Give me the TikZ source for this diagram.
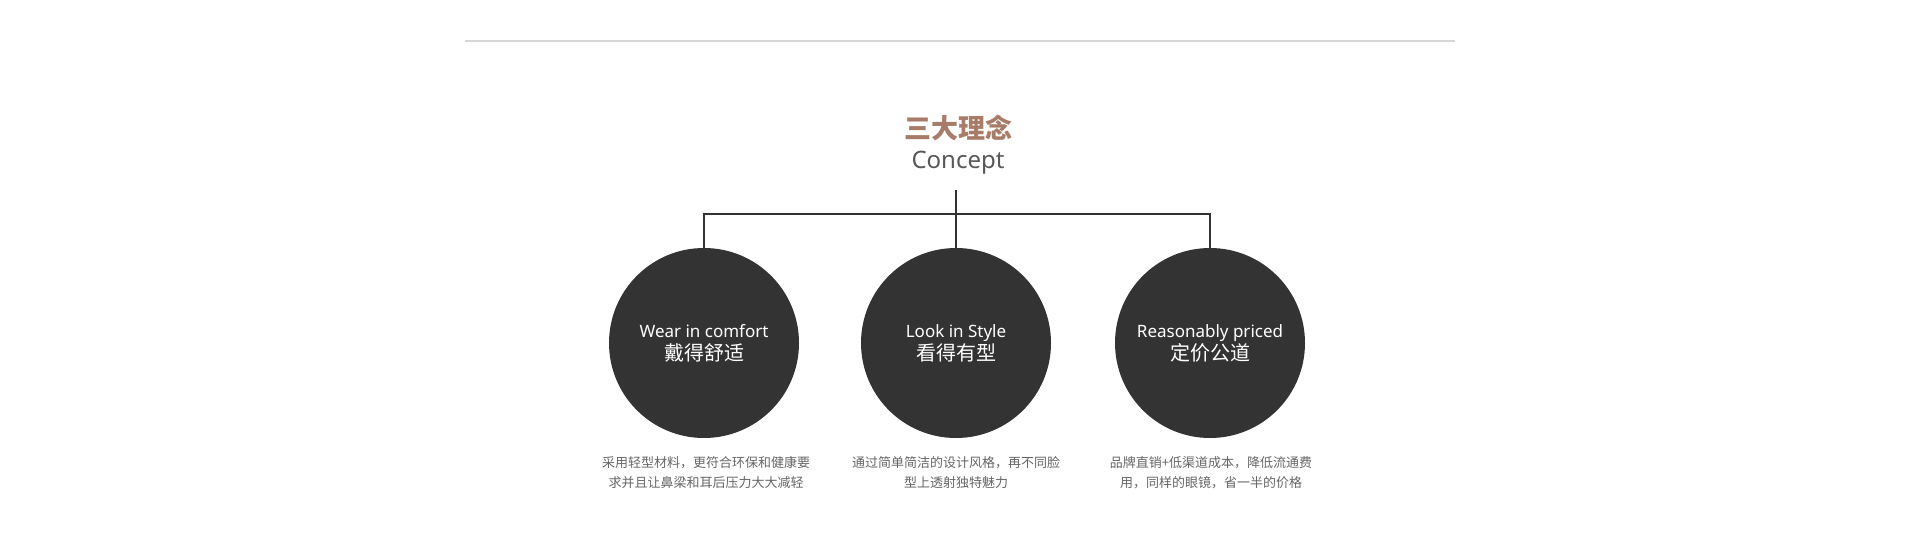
\documentclass[tikz,border=0pt]{standalone}
\usepackage{fontspec}
\setmainfont{Noto Sans}
\newfontfamily\cjk{Noto Sans CJK SC}
\definecolor{ink}{RGB}{51,51,51}
\definecolor{rulegray}{RGB}{214,214,214}
\definecolor{tan}{RGB}{168,124,104}
\definecolor{note}{RGB}{102,102,102}
\definecolor{sub}{RGB}{88,88,88}
\tikzset{
  idea/.style={circle,fill=ink,minimum size=190pt,inner sep=0pt,text=white,align=center,font=\fontsize{17}{23}\selectfont},
  link/.style={draw=ink,line width=1.8pt},
  caption/.style={text=note,align=center,font=\cjk\fontsize{13}{20}\selectfont}
}
\begin{document}
\begin{tikzpicture}[x=1pt,y=-1pt]
        \fill[white] (0,0) rectangle (1920,533);
        \useasboundingbox (0,0) rectangle (1920,533);
        \coordinate (ruleL) at (465,41);
        \coordinate (ruleR) at (1455,41);
        \draw[rulegray,line width=1.5pt] (ruleL) -- (ruleR);
        \node[text=tan,font=\cjk\bfseries\fontsize{27}{30}\selectfont] (title) at (958,128) {三大理念};
        \node[text=sub,font=\fontsize{24}{28}\selectfont] (concept) at (958,163) {Concept};
        \node[idea] (wear) at (704,343) {Wear in comfort\\{\cjk\fontsize{20}{23}\selectfont 戴得舒适}};
        \node[idea] (style) at (956,343) {Look in Style\\{\cjk\fontsize{20}{23}\selectfont 看得有型}};
        \node[idea] (price) at (1210,343) {Reasonably priced\\{\cjk\fontsize{20}{23}\selectfont 定价公道}};
        \coordinate (stem) at (956,190);
        \coordinate (bar) at (956,214);
        \draw[link] (stem) -- (style.north);
        \draw[link] (wear.north) |- (bar) -| (price.north);
        \node[caption] (wearnote) at (706,473) {采用轻型材料，更符合环保和健康要\\求并且让鼻梁和耳后压力大大减轻};
        \node[caption] (stylenote) at (956,473) {通过简单简洁的设计风格，再不同脸\\型上透射独特魅力};
        \node[caption] (pricenote) at (1211,473) {品牌直销+低渠道成本，降低流通费\\用，同样的眼镜，省一半的价格};
    \end{tikzpicture}
\end{document}
